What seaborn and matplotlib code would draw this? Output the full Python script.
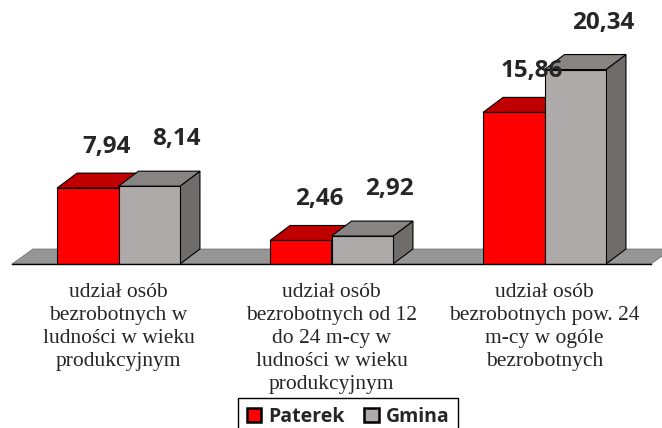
import numpy as np
import pandas as pd
import matplotlib
matplotlib.use("Agg")
import matplotlib.pyplot as plt
from matplotlib.patches import Polygon, Patch
import seaborn as sns

# ---------------- data ----------------
categories = [
    "udział osób\nbezrobotnych w\nludności w wieku\nprodukcyjnym",
    "udział osób\nbezrobotnych od 12\ndo 24 m-cy w\nludności w wieku\nprodukcyjnym",
    "udział osób\nbezrobotnych pow. 24\nm-cy w ogóle\nbezrobotnych",
]
series_names = ["Paterek", "Gmina"]
paterek = [7.94, 2.46, 15.86]
gmina = [8.14, 2.92, 20.34]

# ---------------- style ----------------
sns.set_style("white")
plt.rcParams["font.family"] = ["DejaVu Sans"]

front_col = ["#FF0000", "#AEAAA9"]
top_col = ["#C00000", "#898484"]
side_col = ["#A00000", "#6F6C6C"]
floor_col = "#969696"
label_font = "Open Sans"
cat_font = "Liberation Serif"

W, H = 662, 428
fig = plt.figure(figsize=(W / 100, H / 100), dpi=100)
ax_left, ax_right, ax_base = 12, 651, 264
px_per_unit = 9.56
ax = fig.add_axes([ax_left / W, (H - ax_base) / H, (ax_right - ax_left) / W, ax_base / H])

df = pd.DataFrame({
    "cat": categories * 2,
    "val": paterek + gmina,
    "series": [series_names[0]] * 3 + [series_names[1]] * 3,
})

sns.barplot(data=df, x="cat", y="val", hue="series", palette=front_col,
            width=0.577, saturation=1, edgecolor="black", linewidth=0.8,
            legend=False, ax=ax)

ax.set_xlim(-0.5, 2.5)
ax.set_ylim(0, ax_base / px_per_unit)

# pixel -> data conversion
ux = 3.0 / (ax_right - ax_left)     # data x units per pixel
uy = 1.0 / px_per_unit              # data y units per pixel
ddx, ddy = 20 * ux, 15 * uy

# floor
floor = Polygon([(-0.5, 0), (2.5, 0), (2.5 + 21 * ux, ddy), (-0.5 + 21 * ux, ddy)],
                closed=True, facecolor=floor_col, edgecolor="#6a6a6a", lw=0.5,
                zorder=1, clip_on=False)
ax.add_patch(floor)

label_off = [(18.5, 20), (27.5, 26)]  # pixel offsets per series (x, y above back top)
zbase = [2, 4]
for si, cont in enumerate(ax.containers):
    for p in cont:
        x0, w, h = p.get_x(), p.get_width(), p.get_height()
        p.set_zorder(zbase[si] + 1)
        side = Polygon([(x0 + w, 0), (x0 + w, h), (x0 + w + ddx, h + ddy), (x0 + w + ddx, ddy)],
                       closed=True, facecolor=side_col[si], edgecolor="black", lw=0.8,
                       zorder=zbase[si], clip_on=False)
        top = Polygon([(x0, h), (x0 + w, h), (x0 + w + ddx, h + ddy), (x0 + ddx, h + ddy)],
                      closed=True, facecolor=top_col[si], edgecolor="black", lw=0.8,
                      zorder=zbase[si] + 0.5, clip_on=False)
        ax.add_patch(side)
        ax.add_patch(top)
        ox, oy = label_off[si]
        ax.text(x0 + w / 2 + ox * ux, h + ddy + oy * uy, f"{h:.2f}".replace(".", ","),
                ha="center", va="baseline", fontsize=17.5, fontweight="bold",
                family=label_font, zorder=8, clip_on=False)

# axes styling
for s in ["left", "right", "top"]:
    ax.spines[s].set_visible(False)
ax.spines["bottom"].set_color("black")
ax.spines["bottom"].set_linewidth(1.0)
ax.spines["bottom"].set_zorder(6)
ax.set_yticks([])
ax.set_xlabel("")
ax.set_ylabel("")
ax.set_xticks([-0.5, 0.5, 1.5, 2.5])
ax.set_xticklabels([])
ax.tick_params(axis="x", which="major", length=5, width=1, color="black", direction="out")
ax.set_xticks([0, 1, 2], minor=True)
ax.set_xticklabels(categories, minor=True, fontsize=15.5, family=cat_font,
                   linespacing=1.27)
ax.tick_params(axis="x", which="minor", length=0, pad=14)

handles = [Patch(facecolor=front_col[i], edgecolor="black", lw=1.8) for i in range(2)]
leg = fig.legend(handles, series_names, loc="upper center",
                 bbox_to_anchor=(348 / W, 1 - 398 / H), ncol=2, frameon=True,
                 fancybox=False, edgecolor="black", framealpha=1,
                 prop={"family": label_font, "weight": "bold", "size": 14},
                 handlelength=0.75, handleheight=0.75, handletextpad=0.35,
                 columnspacing=1.0, borderpad=0.45, borderaxespad=0)
leg.get_frame().set_linewidth(1.0)

fig.savefig("out.png", dpi=100)
